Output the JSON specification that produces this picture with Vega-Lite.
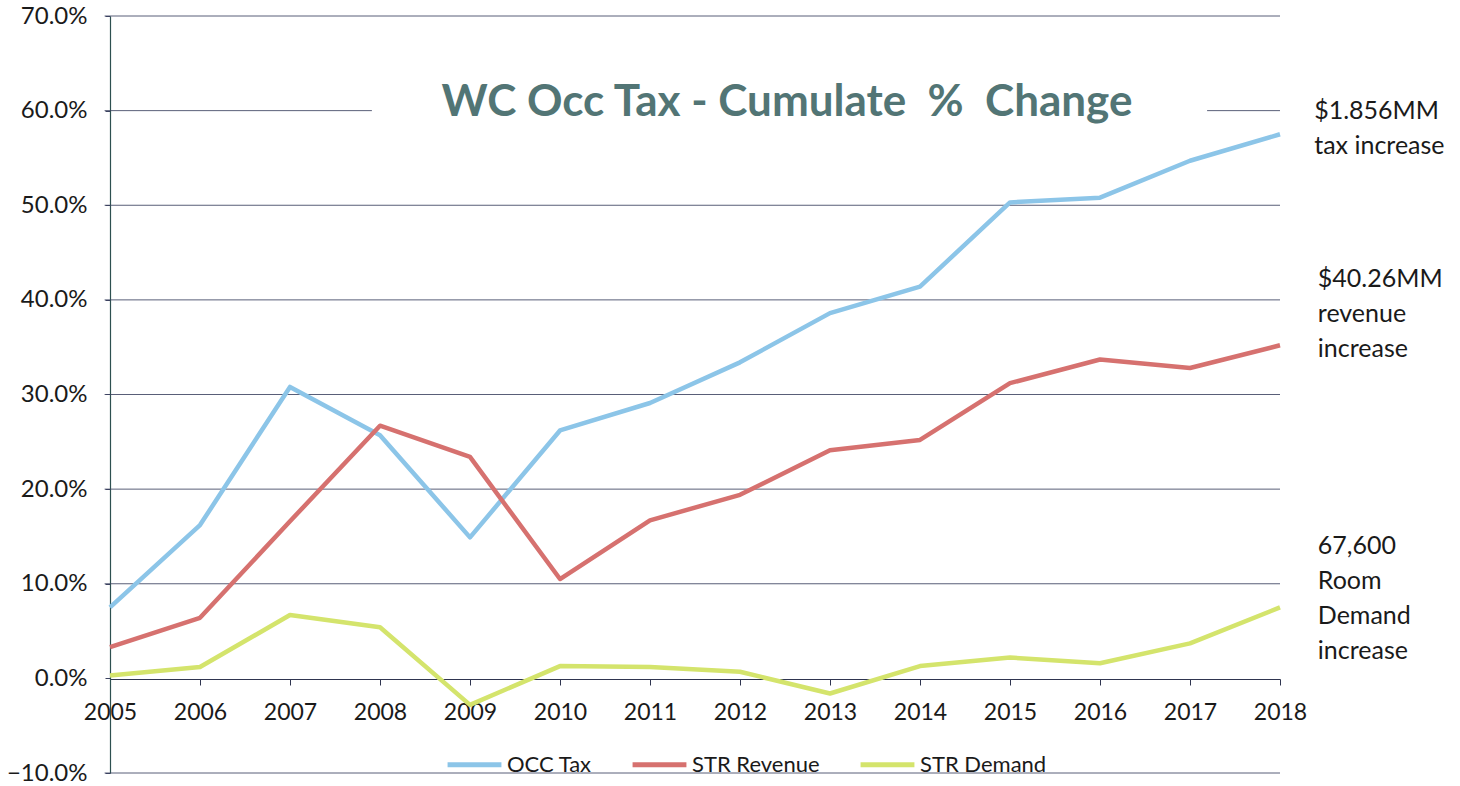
{
  "$schema": "https://vega.github.io/schema/vega-lite/v6.json",
  "width": 1170,
  "height": 757,
  "autosize": "none",
  "padding": {"left": 110, "top": 16, "right": 180, "bottom": 13},
  "background": "white",
  "title": {
    "text": "WC Occ Tax - Cumulate\u00a0 % \u00a0Change",
    "anchor": "middle",
    "frame": "group",
    "baseline": "alphabetic",
    "offset": 0,
    "dy": 156,
    "dx": 92,
    "font": "Lato",
    "fontSize": 44,
    "fontWeight": "bold",
    "color": "#527575"
  },
  "config": {
    "view": {"stroke": null},
    "font": "Lato"
  },
  "datasets": {
    "series": [
      {"year": 2005, "series": "OCC Tax", "value": 0.075},
      {"year": 2006, "series": "OCC Tax", "value": 0.162},
      {"year": 2007, "series": "OCC Tax", "value": 0.308},
      {"year": 2008, "series": "OCC Tax", "value": 0.257},
      {"year": 2009, "series": "OCC Tax", "value": 0.149},
      {"year": 2010, "series": "OCC Tax", "value": 0.262},
      {"year": 2011, "series": "OCC Tax", "value": 0.291},
      {"year": 2012, "series": "OCC Tax", "value": 0.334},
      {"year": 2013, "series": "OCC Tax", "value": 0.386},
      {"year": 2014, "series": "OCC Tax", "value": 0.414},
      {"year": 2015, "series": "OCC Tax", "value": 0.503},
      {"year": 2016, "series": "OCC Tax", "value": 0.508},
      {"year": 2017, "series": "OCC Tax", "value": 0.547},
      {"year": 2018, "series": "OCC Tax", "value": 0.575},
      {"year": 2005, "series": "STR Revenue", "value": 0.033},
      {"year": 2006, "series": "STR Revenue", "value": 0.064},
      {"year": 2007, "series": "STR Revenue", "value": 0.166},
      {"year": 2008, "series": "STR Revenue", "value": 0.267},
      {"year": 2009, "series": "STR Revenue", "value": 0.234},
      {"year": 2010, "series": "STR Revenue", "value": 0.105},
      {"year": 2011, "series": "STR Revenue", "value": 0.167},
      {"year": 2012, "series": "STR Revenue", "value": 0.194},
      {"year": 2013, "series": "STR Revenue", "value": 0.241},
      {"year": 2014, "series": "STR Revenue", "value": 0.252},
      {"year": 2015, "series": "STR Revenue", "value": 0.312},
      {"year": 2016, "series": "STR Revenue", "value": 0.337},
      {"year": 2017, "series": "STR Revenue", "value": 0.328},
      {"year": 2018, "series": "STR Revenue", "value": 0.352},
      {"year": 2005, "series": "STR Demand", "value": 0.003},
      {"year": 2006, "series": "STR Demand", "value": 0.012},
      {"year": 2007, "series": "STR Demand", "value": 0.067},
      {"year": 2008, "series": "STR Demand", "value": 0.054},
      {"year": 2009, "series": "STR Demand", "value": -0.028},
      {"year": 2010, "series": "STR Demand", "value": 0.013},
      {"year": 2011, "series": "STR Demand", "value": 0.012},
      {"year": 2012, "series": "STR Demand", "value": 0.007},
      {"year": 2013, "series": "STR Demand", "value": -0.016},
      {"year": 2014, "series": "STR Demand", "value": 0.013},
      {"year": 2015, "series": "STR Demand", "value": 0.022},
      {"year": 2016, "series": "STR Demand", "value": 0.016},
      {"year": 2017, "series": "STR Demand", "value": 0.037},
      {"year": 2018, "series": "STR Demand", "value": 0.075}
    ],
    "grid": [
      {"g": -0.1, "a": 2004.94, "b": 2018},
      {"g": 0.1, "a": 2004.94, "b": 2018},
      {"g": 0.2, "a": 2004.94, "b": 2018},
      {"g": 0.3, "a": 2004.94, "b": 2018},
      {"g": 0.4, "a": 2004.94, "b": 2018},
      {"g": 0.5, "a": 2004.94, "b": 2018},
      {"g": 0.6, "a": 2004.94, "b": 2007.91},
      {"g": 0.6, "a": 2017.19, "b": 2018},
      {"g": 0.7, "a": 2004.94, "b": 2018}
    ],
    "notes": [
      {"nx": 2018.38, "ny": 0.5908, "label": "$1.856MM|tax increase"},
      {"nx": 2018.42, "ny": 0.4132, "label": "$40.26MM|revenue|increase"},
      {"nx": 2018.42, "ny": 0.1310, "label": "67,600|Room|Demand|increase"}
    ]
  },
  "layer": [
    {
      "data": {"name": "grid"},
      "mark": {"type": "rule", "color": "#3c4260", "strokeWidth": 1, "opacity": 0.85},
      "encoding": {
        "x": {
          "field": "a", "type": "quantitative", "title": null,
          "scale": {"domain": [2005, 2018], "nice": false, "zero": false},
          "axis": {
            "title": null, "values": [2005, 2006, 2007, 2008, 2009, 2010, 2011, 2012, 2013, 2014, 2015, 2016, 2017, 2018],
            "format": "d", "offset": -94, "grid": false,
            "domainColor": "#2f3550", "domainWidth": 1.2,
            "tickColor": "#2f3550", "tickSize": 6, "tickWidth": 1,
            "labelFont": "Lato", "labelFontSize": 23, "labelColor": "#1a1a1a",
            "labelPadding": 16, "labelFlush": false, "labelOverlap": false
          }
        },
        "x2": {"field": "b"},
        "y": {
          "field": "g", "type": "quantitative", "title": null,
          "scale": {"domain": [-0.1, 0.7], "nice": false, "zero": false},
          "axis": {
            "title": null, "values": [-0.1, 0, 0.1, 0.2, 0.3, 0.4, 0.5, 0.6, 0.7],
            "format": ".1%", "grid": false,
            "domainColor": "#2d5050", "domainWidth": 1.2,
            "tickColor": "#3c4260", "tickSize": 5,
            "labelFont": "Lato", "labelFontSize": 24, "labelColor": "#1a1a1a",
            "labelPadding": 18, "labelFlush": false, "labelOverlap": false
          }
        }
      }
    },
    {
      "data": {"name": "series"},
      "mark": {"type": "line", "strokeWidth": 4.5, "strokeJoin": "round"},
      "encoding": {
        "x": {"field": "year", "type": "quantitative", "title": null},
        "y": {"field": "value", "type": "quantitative", "title": null},
        "color": {
          "field": "series", "type": "nominal",
          "scale": {"domain": ["OCC Tax", "STR Revenue", "STR Demand"], "range": ["#8cc5e8", "#d6716f", "#d4e46c"]},
          "legend": {
            "title": null, "orient": "none", "direction": "horizontal",
            "legendX": 335, "legendY": 719, "padding": 0,
            "symbolType": "stroke", "symbolSize": 2900, "symbolStrokeWidth": 5,
            "labelFont": "Lato", "labelFontSize": 22, "labelColor": "#1a1a1a",
            "labelOffset": 3, "columnPadding": 30
          }
        }
      }
    },
    {
      "data": {"name": "notes"},
      "mark": {"type": "text", "align": "left", "baseline": "alphabetic", "lineBreak": "|", "lineHeight": 35, "font": "Lato", "fontSize": 25, "color": "#1a1a1a"},
      "encoding": {
        "x": {"field": "nx", "type": "quantitative", "title": null},
        "y": {"field": "ny", "type": "quantitative", "title": null},
        "text": {"field": "label", "type": "nominal"}
      }
    }
  ]
}
